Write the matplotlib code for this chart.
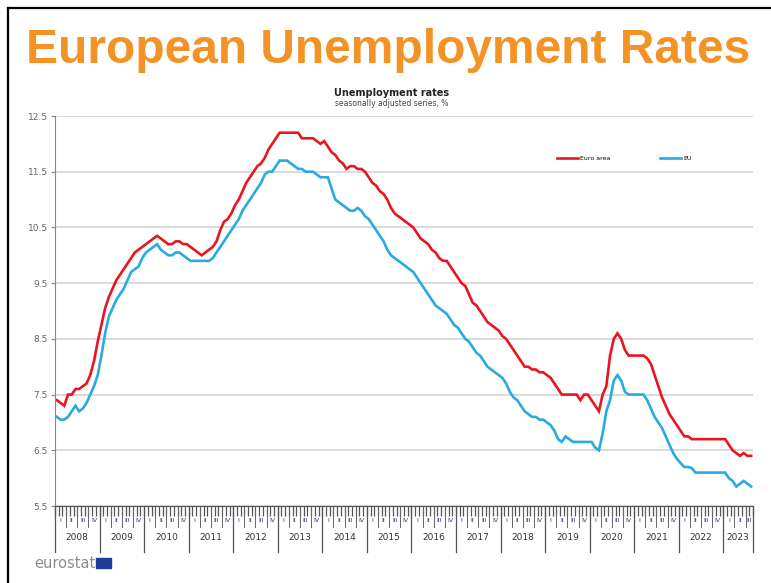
import matplotlib.pyplot as plt
from matplotlib.lines import Line2D
from matplotlib.patches import Rectangle

# Monthly unemployment rates, Jan 2008 - Aug 2023, seasonally adjusted (%)
euro_area = [
    7.4, 7.35, 7.3, 7.5, 7.5, 7.6, 7.6, 7.65, 7.7, 7.85, 8.1, 8.45,         # 2008
    8.75, 9.05, 9.25, 9.4, 9.55, 9.65, 9.75, 9.85, 9.95, 10.05, 10.1, 10.15,  # 2009
    10.2, 10.25, 10.3, 10.35, 10.3, 10.25, 10.2, 10.2, 10.25, 10.25, 10.2, 10.2,  # 2010
    10.15, 10.1, 10.05, 10.0, 10.05, 10.1, 10.15, 10.25, 10.45, 10.6, 10.65, 10.75,  # 2011
    10.9, 11.0, 11.15, 11.3, 11.4, 11.5, 11.6, 11.65, 11.75, 11.9, 12.0, 12.1,  # 2012
    12.2, 12.2, 12.2, 12.2, 12.2, 12.2, 12.1, 12.1, 12.1, 12.1, 12.05, 12.0,  # 2013
    12.05, 11.95, 11.85, 11.8, 11.7, 11.65, 11.55, 11.6, 11.6, 11.55, 11.55, 11.5,  # 2014
    11.4, 11.3, 11.25, 11.15, 11.1, 11.0, 10.85, 10.75, 10.7, 10.65, 10.6, 10.55,  # 2015
    10.5, 10.4, 10.3, 10.25, 10.2, 10.1, 10.05, 9.95, 9.9, 9.9, 9.8, 9.7,   # 2016
    9.6, 9.5, 9.45, 9.3, 9.15, 9.1, 9.0, 8.9, 8.8, 8.75, 8.7, 8.65,         # 2017
    8.55, 8.5, 8.4, 8.3, 8.2, 8.1, 8.0, 8.0, 7.95, 7.95, 7.9, 7.9,          # 2018
    7.85, 7.8, 7.7, 7.6, 7.5, 7.5, 7.5, 7.5, 7.5, 7.4, 7.5, 7.5,            # 2019
    7.4, 7.3, 7.2, 7.5, 7.65, 8.2, 8.5, 8.6, 8.5, 8.3, 8.2, 8.2,            # 2020
    8.2, 8.2, 8.2, 8.15, 8.05, 7.85, 7.65, 7.45, 7.3, 7.15, 7.05, 6.95,     # 2021
    6.85, 6.75, 6.75, 6.7, 6.7, 6.7, 6.7, 6.7, 6.7, 6.7, 6.7, 6.7,          # 2022
    6.7, 6.6, 6.5, 6.45, 6.4, 6.45, 6.4, 6.4,                               # 2023
]
eu = [
    7.1, 7.05, 7.05, 7.1, 7.2, 7.3, 7.2, 7.25, 7.35, 7.5, 7.65, 7.85,       # 2008
    8.2, 8.6, 8.9, 9.05, 9.2, 9.3, 9.4, 9.55, 9.7, 9.75, 9.8, 9.95,         # 2009
    10.05, 10.1, 10.15, 10.2, 10.1, 10.05, 10.0, 10.0, 10.05, 10.05, 10.0, 9.95,  # 2010
    9.9, 9.9, 9.9, 9.9, 9.9, 9.9, 9.95, 10.05, 10.15, 10.25, 10.35, 10.45,  # 2011
    10.55, 10.65, 10.8, 10.9, 11.0, 11.1, 11.2, 11.3, 11.45, 11.5, 11.5, 11.6,  # 2012
    11.7, 11.7, 11.7, 11.65, 11.6, 11.55, 11.55, 11.5, 11.5, 11.5, 11.45, 11.4,  # 2013
    11.4, 11.4, 11.2, 11.0, 10.95, 10.9, 10.85, 10.8, 10.8, 10.85, 10.8, 10.7,  # 2014
    10.65, 10.55, 10.45, 10.35, 10.25, 10.1, 10.0, 9.95, 9.9, 9.85, 9.8, 9.75,  # 2015
    9.7, 9.6, 9.5, 9.4, 9.3, 9.2, 9.1, 9.05, 9.0, 8.95, 8.85, 8.75,         # 2016
    8.7, 8.6, 8.5, 8.45, 8.35, 8.25, 8.2, 8.1, 8.0, 7.95, 7.9, 7.85,        # 2017
    7.8, 7.7, 7.55, 7.45, 7.4, 7.3, 7.2, 7.15, 7.1, 7.1, 7.05, 7.05,        # 2018
    7.0, 6.95, 6.85, 6.7, 6.65, 6.75, 6.7, 6.65, 6.65, 6.65, 6.65, 6.65,    # 2019
    6.65, 6.55, 6.5, 6.8, 7.2, 7.4, 7.75, 7.85, 7.75, 7.55, 7.5, 7.5,       # 2020
    7.5, 7.5, 7.5, 7.4, 7.25, 7.1, 7.0, 6.9, 6.75, 6.6, 6.45, 6.35,         # 2021
    6.27, 6.2, 6.2, 6.18, 6.1, 6.1, 6.1, 6.1, 6.1, 6.1, 6.1, 6.1,           # 2022
    6.1, 6.0, 5.95, 5.85, 5.9, 5.95, 5.9, 5.85,                             # 2023
]
years = list(range(2008, 2024))
quarters = ['I', 'II', 'III', 'IV']
y_ticks = [5.5, 6.5, 7.5, 8.5, 9.5, 10.5, 11.5, 12.5]

n_months = len(euro_area)
months = [i + 0.5 for i in range(n_months)]

fig = plt.figure(figsize=(7.71, 5.83), dpi=100)
W, H = 771, 583

# outer frame (left and top edges)
fig.add_artist(Line2D([8 / W, 8 / W], [0, 1 - 8 / H], color='black', lw=1.6))
fig.add_artist(Line2D([8 / W, 1], [1 - 8 / H, 1 - 8 / H], color='black', lw=1.6))

fig.text(0.503, 1 - 63 / H, 'European Unemployment Rates',
         family=['Liberation Sans Narrow', 'Liberation Sans'], fontweight='bold',
         fontsize=34.5, color='#F39325', ha='center', va='baseline')

ax = fig.add_axes([55 / W, 77 / H, 698 / W, 390 / H])
ax.plot(months, euro_area, color='#E8161E', lw=1.9, label='Euro area', solid_joinstyle='miter')
ax.plot(months, eu, color='#2AAAE0', lw=1.9, label='EU', solid_joinstyle='miter')

ax.set_xlim(0, n_months)
ax.set_ylim(5.5, 12.5)
ax.set_yticks(y_ticks)
ax.set_yticklabels([f'{v:.1f}' for v in y_ticks])
ax.tick_params(axis='y', labelsize=6.5, labelcolor='#666666', color='#888888',
               length=3, pad=2)
ax.grid(axis='y', color='#d4d4d4', lw=1.2)
ax.set_axisbelow(True)

for side in ['top', 'right']:
    ax.spines[side].set_visible(False)
ax.spines['left'].set_color('#888888')
ax.spines['bottom'].set_color('#555555')

# monthly ruler ticks along the time axis
ax.set_xticks(range(0, n_months + 1))
ax.set_xticklabels([])
ax.tick_params(axis='x', length=7, width=0.9, color='#555555', direction='out')

trans = ax.get_xaxis_transform()
px = 1 / 390
for i, yr in enumerate(years):
    start = i * 12
    end = min(start + 12, n_months)
    ax.plot([start, start], [0, -46 * px], transform=trans, clip_on=False,
            color='#555555', lw=0.9)
    ax.text((start + end) / 2, -31 * px, str(yr), transform=trans,
            ha='center', va='center', fontsize=6.5, color='#333333')
    for q in range(4):
        qs = start + q * 3
        if qs >= end:
            break
        qe = min(qs + 3, end)
        if q > 0:
            ax.plot([qs, qs], [0, -21 * px], transform=trans, clip_on=False,
                    color='#666666', lw=0.7)
        ax.text((qs + qe) / 2, -15 * px, quarters[q], transform=trans,
                ha='center', va='center', fontsize=4.5, color='#333366')
ax.plot([n_months, n_months], [0, -46 * px], transform=trans, clip_on=False,
        color='#555555', lw=0.9)

fig.text(392 / W, 1 - 93 / H, 'Unemployment rates', ha='center', va='center',
         fontsize=7, fontweight='bold', color='#222222')
fig.text(392 / W, 1 - 104 / H, 'seasonally adjusted series, %', ha='center',
         va='center', fontsize=5.5, color='#444444')

ax.legend(loc='center left', bbox_to_anchor=(496 / 698, (506 - 158) / 390),
          ncol=2, frameon=False, fontsize=4.5, handlelength=3.4,
          handletextpad=0.3, columnspacing=8)

# eurostat mark
fig.text(34 / W, 1 - 563 / H, 'eurostat', fontsize=10.5, color='#8c8c8c',
         va='center', ha='left')
fig.add_artist(Rectangle((96 / W, 1 - 568 / H), 15 / W, 10 / H,
                         color='#1f3c99', transform=fig.transFigure))

fig.savefig('out.png', dpi=100)
